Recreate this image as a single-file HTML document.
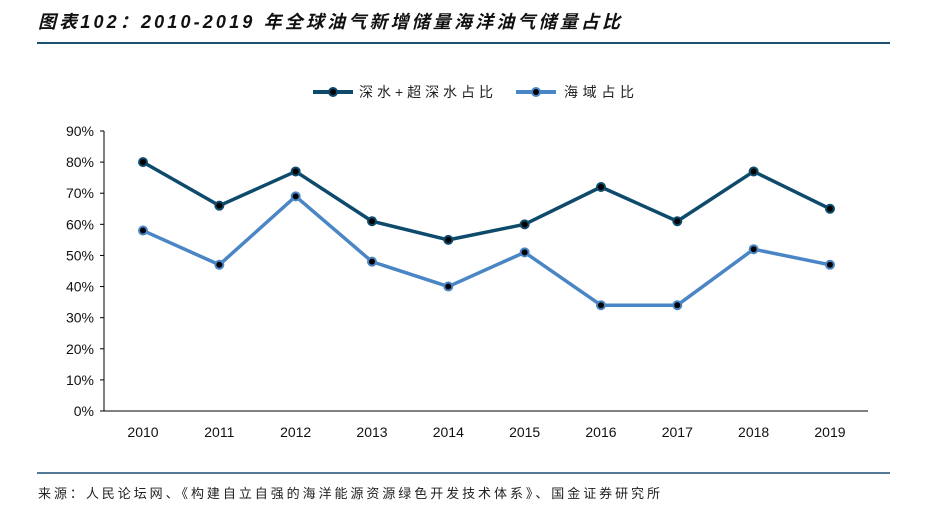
<!DOCTYPE html>
<html><head><meta charset="utf-8"><style>
body{margin:0;background:#fff;width:925px;height:515px;overflow:hidden;font-family:"Liberation Sans","Noto Sans CJK SC",sans-serif;}
</style></head><body>
<svg width="925" height="515">
<text x="38" y="28" font-size="18" font-weight="bold" font-style="italic" fill="#111" textLength="582" lengthAdjust="spacing" font-family="'Liberation Sans','Noto Sans CJK SC',sans-serif">图表102：2010-2019 年全球油气新增储量海洋油气储量占比</text>
<line x1="37" y1="43" x2="890" y2="43" stroke="#1d4f73" stroke-width="2"/>
<line x1="37" y1="473" x2="890" y2="473" stroke="#1d4f73" stroke-width="1.5"/>
<text x="38" y="498" font-size="13" fill="#222" textLength="622" lengthAdjust="spacing" font-family="'Liberation Sans','Noto Sans CJK SC',sans-serif">来源：人民论坛网、《构建自立自强的海洋能源资源绿色开发技术体系》、国金证券研究所</text>
<g>
<g>
<line x1="313" y1="92" x2="353" y2="92" stroke="#0d4a6b" stroke-width="4"/>
<circle cx="333" cy="92" r="4" fill="#000" stroke="#0d4a6b" stroke-width="2"/>
<text x="359" y="97" font-size="14" fill="#222" textLength="134" lengthAdjust="spacing">深水+超深水占比</text></g>
<g>
<line x1="516" y1="92" x2="556" y2="92" stroke="#4a86c5" stroke-width="4"/>
<circle cx="536" cy="92" r="4" fill="#000" stroke="#4a86c5" stroke-width="2"/>
<text x="564" y="97" font-size="14" fill="#222" textLength="70" lengthAdjust="spacing">海域占比</text></g>
</g>
<g id="axes"></g>
<g id="series"></g>
</svg>
<script>
const years=["2010","2011","2012","2013","2014","2015","2016","2017","2018","2019"];
const deepwater=[80,66,77,61,55,60,72,61,77,65];
const offshore=[58,47,69,48,40,51,34,34,52,47];
const yTicks=[0,10,20,30,40,50,60,70,80,90];
const NS="http://www.w3.org/2000/svg";
const x0=143,dx=76.33,yBase=411,yTop=131;
const X=i=>x0+i*dx, Y=v=>yBase-(yBase-yTop)*v/90;
function mk(t,a,p){const e=document.createElementNS(NS,t);for(const k in a)e.setAttribute(k,a[k]);p.appendChild(e);return e;}
const ax=document.getElementById('axes');
const yl=mk('line',{x1:104,y1:yTop,x2:104,y2:yBase,stroke:'#000','stroke-width':1},ax);


const xl=mk('line',{x1:104,y1:yBase,x2:868,y2:yBase,stroke:'#000','stroke-width':1},ax);


yTicks.forEach(v=>{
 mk('line',{x1:100,y1:Y(v),x2:104,y2:Y(v),stroke:'#000'},ax);
 const t=mk('text',{x:94,y:Y(v)+5,'font-size':14,'text-anchor':'end',fill:'#111'},ax);
 t.textContent=v+'%';
 
 
});
years.forEach((y,i)=>{
 const t=mk('text',{x:X(i),y:437,'font-size':14,'text-anchor':'middle',fill:'#111'},ax);
 t.textContent=y;
 
 
});
const sg=document.getElementById('series');
function draw(vals,color,name){
 const p=mk('polyline',{points:vals.map((v,i)=>X(i)+','+Y(v)).join(' '),fill:'none',stroke:color,'stroke-width':3.5,'stroke-linejoin':'round'},sg);
 
 
 vals.forEach((v,i)=>{
  const c=mk('circle',{cx:X(i),cy:Y(v),r:4,fill:'#000',stroke:color,'stroke-width':2},sg);
  
  
 });
}
draw(deepwater,'#0d4a6b','deepwater');
draw(offshore,'#4a86c5','offshore');
</script>
</body></html>
